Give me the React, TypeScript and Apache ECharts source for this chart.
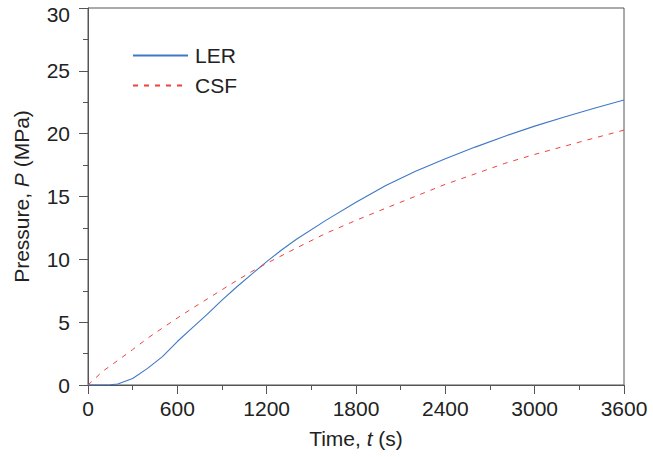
import React, { useEffect, useRef } from "react";
import * as echarts from "echarts";

const lerTime = [0, 100, 150, 200, 300, 400, 500, 600, 700, 800, 900, 1000, 1100, 1200, 1300, 1400, 1600, 1800, 2000, 2200, 2400, 2600, 2800, 3000, 3200, 3400, 3600];
const lerPressure = [0, 0.0, 0.02, 0.08, 0.52, 1.32, 2.26, 3.46, 4.55, 5.62, 6.75, 7.82, 8.82, 9.82, 10.74, 11.6, 13.12, 14.55, 15.88, 17.0, 18.0, 18.93, 19.8, 20.6, 21.33, 22.02, 22.68];

const csfTime = [0, 100, 200, 300, 400, 500, 600, 700, 800, 900, 1000, 1100, 1200, 1400, 1600, 1800, 2000, 2200, 2400, 2600, 2800, 3000, 3200, 3400, 3600];
const csfPressure = [0, 1.1, 1.95, 2.82, 3.72, 4.53, 5.33, 6.1, 6.84, 7.58, 8.32, 9.03, 9.68, 10.9, 12.08, 13.1, 14.07, 15.02, 15.97, 16.8, 17.64, 18.35, 19.0, 19.65, 20.28];

const xTicks = { min: 0, max: 3600, interval: 600 };
const yTicks = { min: 0, max: 30, interval: 5 };

const FONT = "'Liberation Sans', Arial, sans-serif";
const FS = 21;
const AXIS_COLOR = "#555555";
const TEXT_COLOR = "#222222";

export default function App() {
  const ref = useRef<HTMLDivElement>(null);
  useEffect(() => {
    if (!ref.current) return;
    const chart = echarts.init(ref.current, undefined, { renderer: "svg" });
    const axisCommon = {
      axisLine: { show: true, lineStyle: { color: AXIS_COLOR, width: 1 } },
      axisTick: { show: true, inside: false, length: 9, lineStyle: { color: AXIS_COLOR } },
      minorTick: { show: true, splitNumber: 2, length: 5, lineStyle: { color: AXIS_COLOR } },
      splitLine: { show: false },
    };
    const labelBase = { color: TEXT_COLOR, fontSize: FS, fontFamily: FONT };
    const nameStyle = {
      color: TEXT_COLOR,
      fontSize: FS,
      fontFamily: FONT,
      rich: { i: { fontStyle: "italic", fontSize: FS, fontFamily: FONT, color: TEXT_COLOR } },
    };
    chart.setOption({
      animation: false,
      backgroundColor: "#ffffff",
      grid: {
        left: 88,
        top: 8,
        right: 29,
        bottom: 72,
        outerBoundsMode: "none",
        containLabel: false,
        show: true,
        borderColor: AXIS_COLOR,
        borderWidth: 1,
      },
      legend: {
        left: 127,
        top: 40,
        orient: "vertical",
        itemWidth: 55,
        itemHeight: 14,
        itemGap: 9,
        itemStyle: { opacity: 0 },
        textStyle: { color: TEXT_COLOR, fontSize: FS, fontFamily: FONT, padding: [0, 0, 0, 2] },
        data: [{ name: "LER" }, { name: "CSF" }],
      },
      xAxis: {
        type: "value",
        ...xTicks,
        ...axisCommon,
        axisLabel: { ...labelBase, margin: 13, formatter: (v: number) => String(v) },
        name: "Time, {i|t} (s)",
        nameLocation: "middle",
        nameGap: 43,
        nameTextStyle: nameStyle,
      },
      yAxis: {
        type: "value",
        ...yTicks,
        ...axisCommon,
        axisLabel: {
          ...labelBase,
          margin: 18,
          formatter: (v: number) => (v === yTicks.max ? "{top|" + v + "}" : String(v)),
          rich: { top: { ...labelBase, padding: [13, 0, 0, 0] } },
        },
        name: "Pressure, {i|P} (MPa)",
        nameLocation: "middle",
        nameGap: 56,
        nameTextStyle: nameStyle,
      },
      series: [
        {
          name: "LER",
          type: "line",
          data: lerTime.map((t, i) => [t, lerPressure[i]]),
          showSymbol: false,
          symbol: "none",
          smooth: false,
          lineStyle: { color: "#3f78c6", width: 1.1, type: "solid" },
          itemStyle: { color: "#3f78c6" },
        },
        {
          name: "CSF",
          type: "line",
          data: csfTime.map((t, i) => [t, csfPressure[i]]),
          showSymbol: false,
          symbol: "none",
          smooth: false,
          lineStyle: { color: "#ee4040", width: 1, type: [5, 6] },
          itemStyle: { color: "#ee4040" },
        },
      ],
    });
    return () => chart.dispose();
  }, []);
  return <div ref={ref} style={{ width: 653, height: 457, position: "absolute", left: 0, top: 0 }} />;
}
